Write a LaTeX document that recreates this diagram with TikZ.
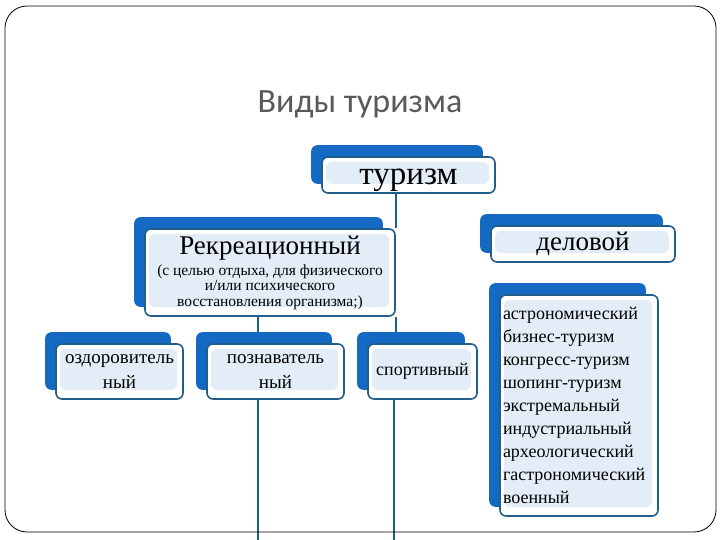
\documentclass[tikz,border=0pt]{standalone}
\usepackage{fontspec}
\setmainfont{Liberation Serif}
\newfontfamily\titlefont{Carlito}
\definecolor{backblue}{HTML}{1469C2}
\definecolor{edgeblue}{HTML}{215E8A}
\definecolor{innerblue}{HTML}{E3EDF8}
\definecolor{titlegray}{HTML}{595959}
\pgfdeclarelayer{bg}
\pgfsetlayers{bg,main}
\tikzset{
  frontbox/.style={draw=edgeblue, line width=1.6pt, fill=white, rounded corners=6pt,
    inner sep=0pt, align=center,
    path picture={\fill[innerblue] ([shift={(4pt,9pt)}]path picture bounding box.south west)
      rectangle ([shift={(-6pt,-5pt)}]path picture bounding box.north east);}},
  conn/.style={draw=edgeblue, line width=1.6pt},
  frame/.style={draw=black, line width=0.8pt, rounded corners=22pt},
}
\newcommand{\backof}[1]{\fill[backblue, rounded corners=6pt] ([shift={(-10pt,10pt)}]#1.south west) rectangle ([shift={(-13pt,11pt)}]#1.north east);}
\begin{document}
\begin{tikzpicture}[x=1pt,y=-1pt]
\useasboundingbox (0,0) rectangle (720,540);
\draw[frame] (5,6) rectangle (716,532);

\node[text=titlegray, font=\titlefont\fontsize{34}{38}\selectfont] (title) at (360,104) {Виды туризма};

\node[frontbox, minimum width=173pt, minimum height=36pt, text height=20pt, text depth=0pt, font=\fontsize{33}{34}\selectfont] (t) at (408.5,175) {туризм};
\node[frontbox, minimum width=250pt, minimum height=87pt, font=\fontsize{15.5}{15.2}\selectfont] (r) at (270,272.5)
  {\fontsize{27}{28}\selectfont Рекреационный\\[4pt](с целью отдыха, для физического\\ и/или психического\\ восстановления организма;)};
\node[frontbox, minimum width=184pt, minimum height=36pt, text height=14pt, text depth=0pt, font=\fontsize{27}{30}\selectfont] (d) at (583,244) {деловой};
\node[frontbox, minimum width=127pt, minimum height=55pt, font=\fontsize{19}{25}\selectfont] (o) at (119.5,371.5) {оздоровитель\\ный};
\node[frontbox, minimum width=137pt, minimum height=55pt, font=\fontsize{19}{25}\selectfont] (p) at (275.5,371.5) {познаватель\\ный};
\node[frontbox, minimum width=109pt, minimum height=55pt, font=\fontsize{18}{25}\selectfont] (s) at (422.5,371.5) {спортивный};
\node[frontbox, minimum width=158pt, minimum height=221pt, text width=152pt, align=left,
  inner xsep=3pt, font=\fontsize{18}{23}\selectfont] (l) at (579,405.5)
  {астрономический\\бизнес-туризм\\конгресс-туризм\\шопинг-туризм\\экстремальный\\индустриальный\\археологический\\гастрономический\\военный};

\coordinate (pend) at (258,540);
\coordinate (send) at (394,540);

\begin{pgfonlayer}{bg}
  \draw[conn] (r.east |- t.south) -- (r.north east);
  \draw[conn] (r.south -| pend) -- (p.north -| pend);
  \draw[conn] (r.south east) -- (r.south east |- s.north);
  \draw[conn] (p.south -| pend) -- (pend);
  \draw[conn] (s.south -| send) -- (send);
  \backof{t}
  \backof{r}
  \backof{d}
  \backof{o}
  \backof{p}
  \backof{s}
  \backof{l}
\end{pgfonlayer}
\end{tikzpicture}
\end{document}
